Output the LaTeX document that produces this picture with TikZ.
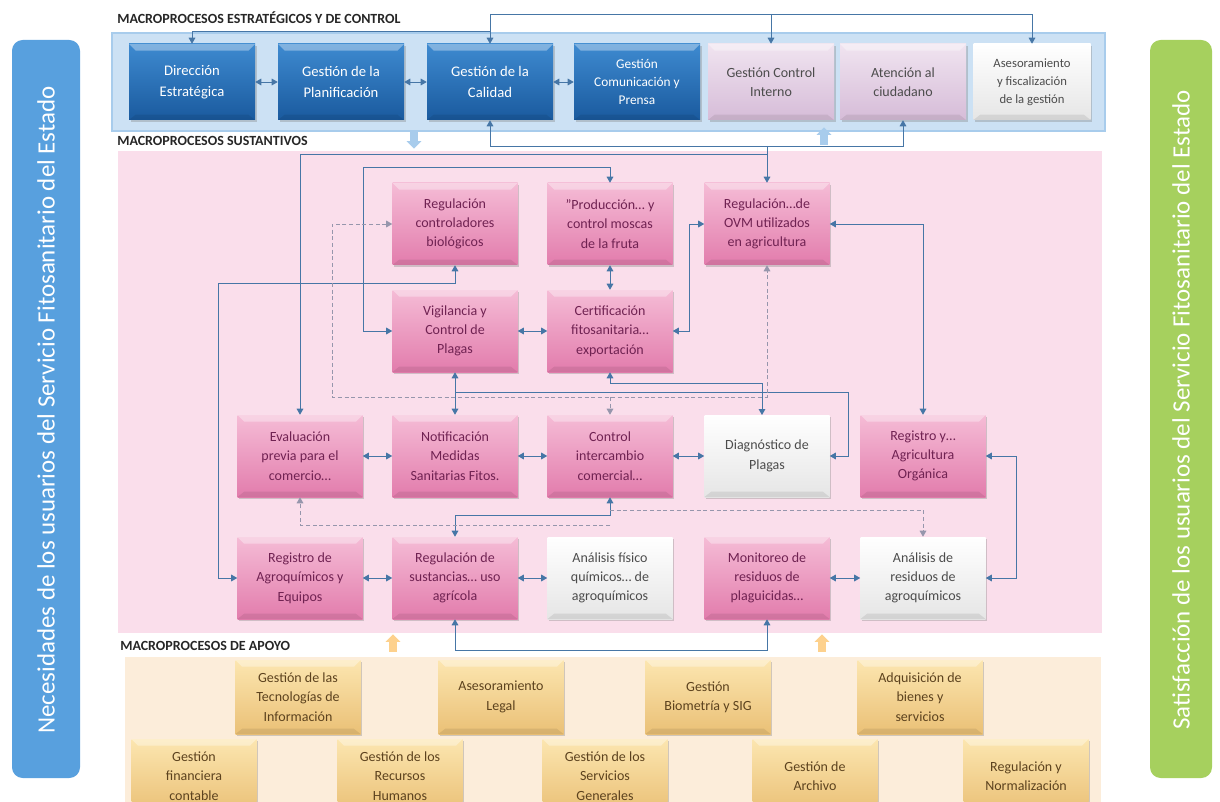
\documentclass[tikz,border=0pt]{standalone}
\usepackage{fontspec}
\setmainfont{Carlito}
\usetikzlibrary{arrows.meta,shadows,shapes.arrows}

\definecolor{needblue}{RGB}{88,160,222}
\definecolor{satgreen}{RGB}{166,208,94}
\definecolor{stratband}{RGB}{204,225,244}
\definecolor{stratedge}{RGB}{168,204,236}
\definecolor{coreband}{RGB}{250,222,235}
\definecolor{supband}{RGB}{252,237,218}
\definecolor{bluetop}{RGB}{62,138,208}
\definecolor{bluebot}{RGB}{26,90,158}
\definecolor{lilatop}{RGB}{240,228,240}
\definecolor{lilabot}{RGB}{214,188,216}
\definecolor{pinktop}{RGB}{245,188,214}
\definecolor{pinkbot}{RGB}{226,124,172}
\definecolor{pinktext}{RGB}{112,34,82}
\definecolor{goldtop}{RGB}{252,230,176}
\definecolor{goldbot}{RGB}{234,192,118}
\definecolor{goldtext}{RGB}{92,66,30}
\definecolor{linkblue}{RGB}{70,118,166}
\definecolor{dashgray}{RGB}{150,150,172}

\tikzset{
  >={Triangle[width=5pt,length=4.5pt]},
  bevel/.style={path picture={
    \fill[white,opacity=0.35] (path picture bounding box.north west)
      -- (path picture bounding box.north east)
      -- ([xshift=-5pt,yshift=-5pt]path picture bounding box.north east)
      -- ([xshift=5pt,yshift=-5pt]path picture bounding box.north west) -- cycle;
    \fill[black,opacity=0.08] (path picture bounding box.south west)
      -- (path picture bounding box.south east)
      -- ([xshift=-5pt,yshift=4pt]path picture bounding box.south east)
      -- ([xshift=5pt,yshift=4pt]path picture bounding box.south west) -- cycle;}},
  box/.style={rectangle, align=center, inner sep=2pt, bevel,
    minimum width=93.75pt, minimum height=61.5pt,
    font=\fontsize{10.5}{14.5}\selectfont,
    drop shadow={shadow xshift=1.2pt, shadow yshift=-1.2pt, opacity=0.35}},
  stratbox/.style={box, minimum width=94.5pt, minimum height=57pt,
    top color=bluetop, bottom color=bluebot, text=white,
    font=\fontsize{11}{15.5}\selectfont},
  ctrlbox/.style={box, minimum width=94.5pt, minimum height=57pt,
    top color=lilatop, bottom color=lilabot, text=black!70},
  plainbox/.style={box, top color=white, bottom color=black!10, text=black!70},
  corebox/.style={box, top color=pinktop, bottom color=pinkbot, text=pinktext},
  supbox/.style={box, minimum height=55.5pt,
    top color=goldtop, bottom color=goldbot, text=goldtext},
  boxtitle/.style={anchor=west, inner sep=0pt,
    font=\fontsize{10.5}{12}\selectfont\bfseries, text=black!85},
  sidetext/.style={text=white, font=\fontsize{18.7}{20}\selectfont},
  palearrow/.style={single arrow, draw=none, inner sep=2.5pt,
    minimum width=11pt, minimum height=13pt, single arrow head extend=2.5pt},
  link/.style={draw=linkblue, line width=0.7pt},
  dashlink/.style={draw=dashgray, line width=0.7pt, dash pattern=on 3pt off 2pt}
}

\begin{document}
\begin{tikzpicture}[x=0.75pt,y=-0.75pt]
		%%%%% FRAME %%%%%
		\useasboundingbox (0,0) rectangle (1220,802);
		\clip (0,0) rectangle (1220,802);
		
		%%%%% SIDE BARS %%%%%
		\fill[needblue, rounded corners=8pt] (12,40) rectangle (80,778);
		\node[sidetext, rotate=90] (need) at (46,410) {Necesidades de los usuarios del Servicio Fitosanitario del Estado};
		\fill[satgreen, rounded corners=8pt] (1150,40) rectangle (1212,778);
		\node[sidetext, rotate=90] (sat) at (1181,410) {Satisfacción de los usuarios del Servicio Fitosanitario del Estado};
		
		%%%%% BANDS %%%%%
		\filldraw[fill=stratband, draw=stratedge, line width=1pt] (112,33) rectangle (1105,131);
		\fill[coreband] (118,151) rectangle (1102,633);
		\fill[supband] (125,657) rectangle (1101,802);
		\node[boxtitle] (tstrat) at (117,18) {MACROPROCESOS ESTRATÉGICOS Y DE CONTROL};
		\node[boxtitle] (tcore) at (117,141) {MACROPROCESOS SUSTANTIVOS};
		\node[boxtitle] (tsup) at (120,646) {MACROPROCESOS DE APOYO};
		
		\node[palearrow, fill=stratedge, rotate=-90] (adown) at (414,138) {};
		\node[palearrow, fill=stratedge, rotate=90] (aup) at (824,138) {};
		\node[palearrow, fill=goldtop!80!orange, rotate=90] (sup1) at (393,645) {};
		\node[palearrow, fill=goldtop!80!orange, rotate=90] (sup2) at (822,645) {};
		
		%%%%% STRATEGIC %%%%%
		\node[stratbox] (dir) at (192,82) {Dirección\\Estratégica};
		\node[stratbox] (plan) at (341,82) {Gestión de la\\Planificación};
		\node[stratbox] (cal) at (490,82) {Gestión de la\\Calidad};
		\node[stratbox, font=\fontsize{10}{13.5}\selectfont] (com) at (637,82) {Gestión\\Comunicación y\\Prensa};
		\node[ctrlbox] (ci) at (771,82) {Gestión Control\\Interno};
		\node[ctrlbox] (at) at (903,82) {Atención al\\ciudadano};
		\node[plainbox, minimum width=87.75pt, minimum height=57pt, font=\fontsize{9.5}{13.5}\selectfont] (ase) at (1032,82) {Asesoramiento\\y fiscalización\\de la gestión};
		
		\draw[link,<->] (dir.east) -- (plan.west);
		\draw[link,<->] (plan.east) -- (cal.west);
		\draw[link,<->] (cal.east) -- (com.west);
		\draw[link,->] (cal.north |- 0,14) -- (cal.north);
		\draw[link,->] (cal.north |- 0,14) -| (ase.north);
		\draw[link,->] (ci.north |- 0,14) -- (ci.north);
		\draw[link,->] (cal.north |- 0,31) -| (dir.north);
		\draw[link,<->] (cal.south) |- (at.south |- 0,146) -- (at.south);
		
		%%%%% CORE %%%%%
		\node[corebox] (regc) at (455,224) {Regulación\\controladores\\biológicos};
		\node[corebox] (prod) at (610,224) {"Producción… y\\control moscas\\de la fruta};
		\node[corebox] (ovm) at (767,224) {Regulación…de\\OVM utilizados\\en agricultura};
		\node[corebox] (vig) at (455,331) {Vigilancia y\\Control de\\Plagas};
		\node[corebox] (cert) at (610,331) {Certificación\\fitosanitaria…\\exportación};
		\node[corebox] (eva) at (300,456) {Evaluación\\previa para el\\comercio…};
		\node[corebox] (notif) at (455,456) {Notificación\\Medidas\\Sanitarias Fitos.};
		\node[corebox] (ctrl) at (610,456) {Control\\intercambio\\comercial…};
		\node[plainbox] (diag) at (767,456) {Diagnóstico de\\Plagas};
		\node[corebox] (regorg) at (923,456) {Registro y…\\Agricultura\\Orgánica};
		\node[corebox] (regagro) at (300,578) {Registro de\\Agroquímicos y\\Equipos};
		\node[corebox] (regs) at (455,578) {Regulación de\\sustancias… uso\\agrícola};
		\node[plainbox] (anfis) at (610,578) {Análisis físico\\químicos… de\\agroquímicos};
		\node[corebox] (mon) at (767,578) {Monitoreo de\\residuos de\\plaguicidas…};
		\node[plainbox] (anres) at (923,578) {Análisis de\\residuos de\\agroquímicos};
		
		% links from the strategic band
		\draw[link,->] (ovm.north |- 0,146) -- (ovm.north);
		\draw[link,->] (ovm.north |- 0,154) -| (eva.north);
		
		% links between core processes
		\draw[link,<->] (prod.north) |- (363,167) |- (vig.west);
		\draw[link,<->] (prod.south) -- (cert.north);
		\draw[link,<->] (vig.east) -- (cert.west);
		\draw[link,<->] (ovm.west) -- ++(-15,0) |- (cert.east);
		\draw[link,<->] (ovm.east) -| (regorg.north);
		\draw[link,<->] (regc.south) |- (218,283) |- (regagro.west);
		\draw[link,<->] (vig.south) -- (notif.north);
		\draw[link,->] (notif.north |- 0,392) -| (848,456) -- (diag.east);
		\draw[link,<->] (cert.south) |- (762,383) -- (762,415);
		\draw[dashlink,<->] (regc.west) -| (332,397) -| (ovm.south);
		\draw[dashlink,->] (ctrl.north |- 0,397) -- (ctrl.north);
		
		\draw[link,<->] (eva.east) -- (notif.west);
		\draw[link,<->] (notif.east) -- (ctrl.west);
		\draw[link,<->] (ctrl.east) -- (diag.west);
		\draw[link,<->] (ctrl.south) |- (regs.north |- 0,515) -- (regs.north);
		\draw[dashlink,->] (ctrl.south |- 0,525) -| (eva.south);
		\draw[dashlink,->] (ctrl.south |- 0,510) -| (anres.north);
		\draw[link,<->] (regorg.east) -- ++(31,0) |- (anres.east);
		
		\draw[link,<->] (regagro.east) -- (regs.west);
		\draw[link,<->] (regs.east) -- (anfis.west);
		\draw[link,<->] (mon.east) -- (anres.west);
		\draw[link,<->] (regs.south) |- (mon.south |- 0,650) -- (mon.south);
		
		%%%%% SUPPORT %%%%%
		\node[supbox] (tec) at (298,697) {Gestión de las\\Tecnologías de\\Información};
		\node[supbox] (legal) at (501,697) {Asesoramiento\\Legal};
		\node[supbox] (bio) at (708,697) {Gestión\\Biometría y SIG};
		\node[supbox] (adq) at (920,697) {Adquisición de\\bienes y\\servicios};
		\node[supbox] (fin) at (194,776) {Gestión\\financiera\\contable};
		\node[supbox] (rrhh) at (400,776) {Gestión de los\\Recursos\\Humanos};
		\node[supbox] (sg) at (605,776) {Gestión de los\\Servicios\\Generales};
		\node[supbox] (arch) at (815,776) {Gestión de\\Archivo};
		\node[supbox] (regn) at (1026,776) {Regulación y\\Normalización};
	\end{tikzpicture}
\end{document}
